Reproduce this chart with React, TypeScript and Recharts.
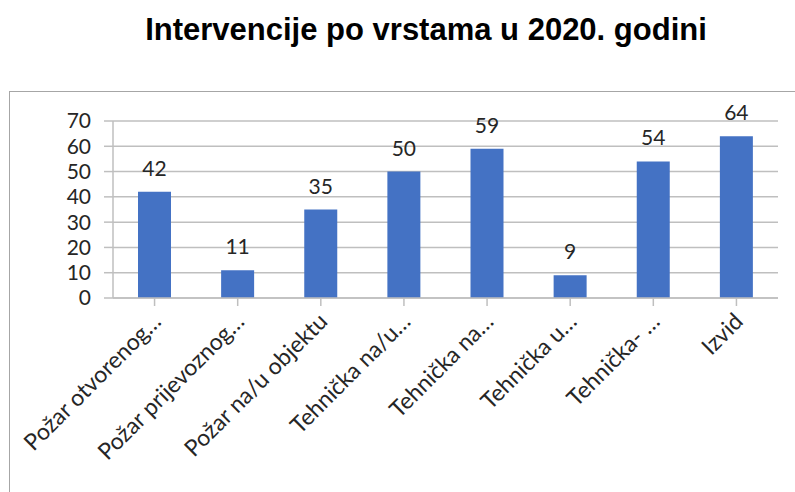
import React from 'react';
import { BarChart, Bar, XAxis, YAxis, CartesianGrid, LabelList } from 'recharts';

const categories = [
    'Požar otvorenog…',
    'Požar prijevoznog…',
    'Požar na/u objektu',
    'Tehnička na/u…',
    'Tehnička na…',
    'Tehnička u…',
    'Tehnička- …',
    'Izvid',
];
const values = [42, 11, 35, 50, 59, 9, 54, 64];
const yTicks = [0, 10, 20, 30, 40, 50, 60, 70];

const data = categories.map((name, i) => ({ name, value: values[i] }));

const FONT = 'Lato, "Open Sans", sans-serif';
const TEXT = '#262626';
const GRID = '#bfbfbf';

const RotatedTick = (props: any) => {
    const { x, y, payload } = props;
    return (
        <g transform={`translate(${x + 8},${y + 15})`}>
            <text
                transform="rotate(-45)"
                textAnchor="end"
                x={0}
                y={0}
                fill={TEXT}
                fontSize={23}
                fontFamily={FONT}
            >
                {payload.value}
            </text>
        </g>
    );
};

export default function App() {
    return (
        <div style={{ position: 'absolute', left: 0, top: 0, width: 795, height: 492, background: '#fff', overflow: 'hidden' }}>
            <div
                style={{
                    position: 'absolute',
                    left: 0,
                    top: 10,
                    width: 852,
                    textAlign: 'center',
                    fontFamily: '"Liberation Sans", Arial, sans-serif',
                    fontWeight: 'bold',
                    fontSize: 31,
                    lineHeight: '40px',
                    color: '#000',
                }}
            >
                Intervencije po vrstama u 2020. godini
            </div>
            <div
                style={{
                    position: 'absolute',
                    left: 9,
                    top: 91,
                    width: 800,
                    height: 420,
                    borderLeft: '1px solid #a6a6a6',
                    borderTop: '1px solid #a6a6a6',
                }}
            />
            <div style={{ position: 'absolute', left: 0, top: 0 }}>
                <BarChart
                    width={795}
                    height={492}
                    data={data}
                    margin={{ top: 121, right: 17, left: 0, bottom: 14 }}
                    barSize={33}
                >
                    <CartesianGrid vertical={false} stroke={GRID} strokeWidth={1.5} />
                    <XAxis
                        dataKey="name"
                        interval={0}
                        height={180}
                        axisLine={{ stroke: GRID, strokeWidth: 1.5 }}
                        tickLine={{ stroke: GRID, strokeWidth: 1.5 }}
                        tickSize={8}
                        tick={<RotatedTick />}
                    />
                    <YAxis
                        width={113}
                        domain={[0, 70]}
                        ticks={yTicks}
                        interval={0}
                        axisLine={{ stroke: GRID, strokeWidth: 1.5 }}
                        tickLine={{ stroke: GRID, strokeWidth: 1.5 }}
                        tickSize={9}
                        tickMargin={13}
                        tick={{ fill: TEXT, fontSize: 21, fontFamily: FONT }}
                    />
                    <Bar dataKey="value" fill="#4472C4" isAnimationActive={false}>
                        <LabelList
                            dataKey="value"
                            position="top"
                            offset={16}
                            fill={TEXT}
                            fontSize={21}
                            fontFamily={FONT}
                        />
                    </Bar>
                </BarChart>
            </div>
        </div>
    );
}
